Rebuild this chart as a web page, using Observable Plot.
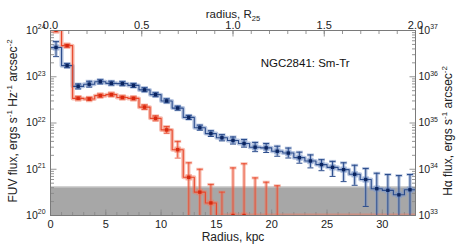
<!DOCTYPE html>
<html><head><meta charset="utf-8">
<script src="https://cdn.jsdelivr.net/npm/d3@7"></script>
<script src="https://cdn.jsdelivr.net/npm/@observablehq/plot@0.6"></script>
<style>body{margin:0;background:#fff}#chart{width:458px;height:251px}</style>
</head><body><div id="chart"></div>
<script>
// ---------- data ----------
const radiusKpc = [0.5,1.5,2.5,3.5,4.5,5.5,6.5,7.5,8.5,9.5,10.5,11.5,12.5,13.5,14.5,15.5,16.5,17.5,18.5,19.5,20.5,21.5,22.5,23.5,24.5,25.5,26.5,27.5,28.5,29.5,30.5,31.5,32.5];
const fuvFlux = [4.3e23,1.74e23,6.2e22,6.9e22,7.8e22,7.2e22,7.1e22,6.5e22,5.2e22,4.1e22,3.0e22,2.1e22,1.32e22,7.9e21,5.9e21,4.8e21,4.2e21,3.6e21,3.0e21,2.9e21,2.45e21,2.24e21,1.78e21,1.51e21,1.26e21,1.10e21,9.8e20,7.8e20,6.0e20,3.8e20,3.5e20,2.8e20,3.6e20];
const fuvHi = [5.75e23,1.92e23,6.98e22,8.0e22,8.6e22,8.0e22,7.8e22,7.1e22,5.8e22,4.5e22,3.33e22,2.31e22,1.46e22,9.0e21,6.8e21,5.6e21,5.0e21,4.4e21,3.8e21,3.6e21,3.15e21,2.87e21,2.34e21,2.04e21,1.61e21,1.48e21,1.38e21,1.22e21,1.04e21,8.2e20,7.7e20,7.3e20,7.7e20];
const fuvLo = [2.72e23,1.57e23,5.45e22,5.96e22,7.0e22,6.6e22,6.4e22,5.85e22,4.75e22,3.7e22,2.73e22,1.89e22,1.19e22,7.0e21,5.1e21,4.1e21,3.5e21,3.0e21,2.4e21,2.3e21,1.91e21,1.75e21,1.35e21,1.07e21,9.3e20,7.0e20,5.4e20,4.5e20,1.57e20,0,0,0,0];
const haFlux = [1.0e37,4.7e36,3.4e35,3.3e35,3.9e35,4.1e35,3.55e35,3.4e35,2.2e35,1.26e35,7.1e34,2.65e34,6.7e33,3.2e33,1.87e33,0,1.0e33,1.0e33,0,0,0,0,0,0,0,0,0,0,0,0,0,0,0];
const haHi = [null,5.0e36,3.7e35,3.55e35,4.2e35,4.4e35,3.8e35,3.65e35,2.45e35,1.43e35,8.4e34,4.0e34,1.38e34,1.0e34,4.7e33,3.2e33,1.07e34,1.32e34,6.5e33,5.25e33,4.4e33,null,null,null,null,null,null,null,null,null,null,null,null];
const haLo = [null,4.35e36,3.2e35,3.08e35,3.6e35,3.8e35,3.3e35,3.15e35,1.95e35,1.11e35,5.9e34,1.74e34,0,0,0,0,0,0,0,0,0,null,null,null,null,null,null,null,null,null,null,null,null];
const fuvNoise = 4.1e20;
const fuvAxisRange = [1e20, 1e24];
const haAxisRange = [1e33, 1e37];
const r25Kpc = 16.5;
const topTicksR25 = [0.0, 0.5, 1.0, 1.5, 2.0];
const bottomTicksKpc = [0, 5, 10, 15, 20, 25, 30];
const galaxyLabel = "NGC2841: Sm-Tr";
const labelPos = {r: 19, fuv: 2.0e23};

// ---------- derived ----------
const xDomain = [0, topTicksR25[topTicksR25.length - 1] * r25Kpc];
const haToFuv = fuvAxisRange[0] / haAxisRange[0];
const yMin = fuvAxisRange[0];
const rows = radiusKpc.map((r, i) => ({
  r,
  fuv: fuvFlux[i], fuvLo: Math.max(fuvLo[i], yMin), fuvHi: fuvHi[i],
  ha: haFlux[i] * haToFuv,
  haLine: Math.max(haFlux[i] * haToFuv, yMin),
  haLo: haLo[i] == null ? null : Math.max(haLo[i] * haToFuv, yMin),
  haHi: haHi[i] == null ? null : haHi[i] * haToFuv
}));
const half = (radiusKpc[1] - radiusKpc[0]) / 2;
const stepRows = [{...rows[0], r: rows[0].r - half}, ...rows, {...rows[rows.length-1], r: rows[rows.length-1].r + half}];
const haBars = rows.filter(d => d.haHi != null && d.haLo != null);
const haDots = rows.filter(d => d.ha >= yMin);

const decades = d3.range(Math.log10(fuvAxisRange[0]), Math.log10(fuvAxisRange[1]) + 1);
const yMajor = decades.map(e => Math.pow(10, e));
const yMinor = decades.slice(0, -1).flatMap(e => d3.range(2, 10).map(m => m * Math.pow(10, e)));
const xMinor = d3.range(xDomain[0], xDomain[1] + 1e-9, 1);
const topMinor = d3.range(0, topTicksR25[topTicksR25.length-1] + 1e-9, 0.1).map(t => t * r25Kpc);
const haExpOffset = Math.log10(haAxisRange[0]) - Math.log10(fuvAxisRange[0]);

// ---------- symbols ----------
const lineSym = (dx, dy, centered) => ({draw(ctx, size) {
  const l = Math.sqrt(size / Math.PI);
  if (centered) { ctx.moveTo(-l*dx, -l*dy); ctx.lineTo(l*dx, l*dy); }
  else { ctx.moveTo(0, 0); ctx.lineTo(l*dx, l*dy); }
}});
const symUp = lineSym(0, -1), symDown = lineSym(0, 1), symRight = lineSym(1, 0), symLeft = lineSym(-1, 0);
const symCap = lineSym(1, 0, true);

const tickCol = "#8a8a8a";
const blueCore = "#2b4c8c", blueHalo = "#7d98c8", blueDot = "#0a2460";
const redCore = "#e8462a", redHalo = "#f07a60", redDot = "#d9280e";
const font = "Liberation Sans, Arial, Helvetica, sans-serif";

const plot = Plot.plot({
  width: 458, height: 251,
  marginTop: 30, marginRight: 43, marginBottom: 36, marginLeft: 50,
  style: {fontFamily: font, background: "white", overflow: "visible"},
  x: {domain: xDomain, axis: null},
  y: {type: "log", domain: fuvAxisRange, axis: null},
  marks: [
    Plot.rect([fuvNoise], {x1: () => xDomain[0], x2: () => xDomain[1], y1: () => yMin, y2: d => d, fill: "#a7a7a7"}),
    Plot.ruleY([fuvNoise], {stroke: "#c4c4c4", strokeWidth: 1.2}),
    Plot.dot(xMinor, {x: d => d, frameAnchor: "bottom", symbol: symUp, r: 3.5, stroke: tickCol, fill: "none", strokeWidth: 0.9}),
    Plot.dot(bottomTicksKpc, {x: d => d, frameAnchor: "bottom", symbol: symUp, r: 6, stroke: tickCol, fill: "none", strokeWidth: 0.9}),
    Plot.dot(topMinor, {x: d => d, frameAnchor: "top", symbol: symDown, r: 3.5, stroke: tickCol, fill: "none", strokeWidth: 0.9}),
    Plot.dot(topTicksR25.map(t => t * r25Kpc), {x: d => d, frameAnchor: "top", symbol: symDown, r: 6, stroke: tickCol, fill: "none", strokeWidth: 0.9}),
    Plot.dot(yMinor, {y: d => d, frameAnchor: "left", symbol: symRight, r: 3.5, stroke: tickCol, fill: "none", strokeWidth: 0.9}),
    Plot.dot(yMajor, {y: d => d, frameAnchor: "left", symbol: symRight, r: 6, stroke: tickCol, fill: "none", strokeWidth: 0.9}),
    Plot.dot(yMinor, {y: d => d, frameAnchor: "right", symbol: symLeft, r: 3.5, stroke: tickCol, fill: "none", strokeWidth: 0.9}),
    Plot.dot(yMajor, {y: d => d, frameAnchor: "right", symbol: symLeft, r: 6, stroke: tickCol, fill: "none", strokeWidth: 0.9}),
    // halos
    Plot.line(stepRows, {x: "r", y: "fuv", curve: "step", stroke: blueHalo, strokeWidth: 4, strokeOpacity: 0.55, clip: true}),
    Plot.ruleX(rows, {x: "r", y1: "fuvLo", y2: "fuvHi", stroke: blueHalo, strokeWidth: 3.5, strokeOpacity: 0.5, clip: true}),
    Plot.dot(rows, {x: "r", y: "fuvHi", symbol: symCap, r: 3.5, stroke: blueHalo, strokeWidth: 3, strokeOpacity: 0.5, fill: "none", clip: true}),
    Plot.dot(rows, {x: "r", y: "fuv", symbol: "square", r: 3.6, fill: blueHalo, fillOpacity: 0.6, clip: true}),
    Plot.line(stepRows, {x: "r", y: "haLine", curve: "step", stroke: redHalo, strokeWidth: 4, strokeOpacity: 0.5, clip: true}),
    Plot.ruleX(haBars, {x: "r", y1: "haLo", y2: "haHi", stroke: redHalo, strokeWidth: 3.5, strokeOpacity: 0.45, clip: true}),
    Plot.dot(haBars, {x: "r", y: "haHi", symbol: symCap, r: 3.5, stroke: redHalo, strokeWidth: 3, strokeOpacity: 0.45, fill: "none", clip: true}),
    Plot.dot(haDots, {x: "r", y: "ha", symbol: "square", r: 3.6, fill: redHalo, fillOpacity: 0.55, clip: true}),
    // cores
    Plot.line(stepRows, {x: "r", y: "fuv", curve: "step", stroke: blueCore, strokeWidth: 1.1, clip: true}),
    Plot.ruleX(rows, {x: "r", y1: "fuvLo", y2: "fuvHi", stroke: blueCore, strokeWidth: 1, clip: true}),
    Plot.dot(rows, {x: "r", y: "fuvHi", symbol: symCap, r: 3, stroke: blueCore, strokeWidth: 1, fill: "none", clip: true}),
    Plot.dot(rows, {x: "r", y: "fuvLo", symbol: symCap, r: 3, stroke: blueCore, strokeWidth: 1, fill: "none", clip: true}),
    Plot.dot(rows, {x: "r", y: "fuv", symbol: "square", r: 1.9, fill: blueDot, clip: true}),
    Plot.line(stepRows, {x: "r", y: "haLine", curve: "step", stroke: redCore, strokeWidth: 1.1, clip: true}),
    Plot.ruleX(haBars, {x: "r", y1: "haLo", y2: "haHi", stroke: redCore, strokeWidth: 1, strokeOpacity: 0.8, clip: true}),
    Plot.dot(haBars, {x: "r", y: "haHi", symbol: symCap, r: 3, stroke: redCore, strokeWidth: 1, strokeOpacity: 0.8, fill: "none", clip: true}),
    Plot.dot(haBars, {x: "r", y: "haLo", symbol: symCap, r: 3, stroke: redCore, strokeWidth: 1, strokeOpacity: 0.8, fill: "none", clip: true}),
    Plot.dot(haDots, {x: "r", y: "ha", symbol: "square", r: 1.9, fill: redDot, clip: true}),
    Plot.frame({stroke: "#7a7a7a", strokeWidth: 1}),
    // tick labels
    Plot.text(bottomTicksKpc, {x: d => d, frameAnchor: "bottom", dy: 12, text: d => String(d), fontSize: 11, fill: "#222"}),
    Plot.text(topTicksR25, {x: d => d * r25Kpc, frameAnchor: "top", dy: -9, text: d => d.toFixed(1), fontSize: 11, fill: "#222"}),
    Plot.text(yMajor, {y: d => d, frameAnchor: "left", dx: -5, textAnchor: "end", text: d => "10^{" + Math.round(Math.log10(d)) + "}", fontSize: 10.5, fill: "#222"}),
    Plot.text(yMajor, {y: d => d, frameAnchor: "right", dx: 3, textAnchor: "start", text: d => "10^{" + Math.round(Math.log10(d) + haExpOffset) + "}", fontSize: 10.5, fill: "#222"}),
    // axis titles
    Plot.text(["Radius, kpc"], {frameAnchor: "bottom", dy: 25, fontSize: 12, fill: "#222"}),
    Plot.text(["radius, R_{25}"], {frameAnchor: "top", dy: -21, fontSize: 11.5, fill: "#222"}),
    Plot.text(["FUV flux, ergs s^{-1} Hz^{-1} arcsec^{-2}"], {frameAnchor: "left", textAnchor: "middle", dx: -37, dy: -2, rotate: -90, fontSize: 12, fill: "#222"}),
    Plot.text(["H\u03b1 flux, ergs s^{-1} arcsec^{-2}"], {frameAnchor: "right", textAnchor: "middle", dx: 33, dy: 8, rotate: -90, fontSize: 12, fill: "#222"}),
    Plot.text([galaxyLabel], {x: () => labelPos.r, y: () => labelPos.fuv, textAnchor: "start", fontSize: 11.5, fill: "#111"})
  ]
});
document.getElementById("chart").appendChild(plot);

// superscript / subscript rendering: any text element containing ^{..} or _{..}
const NS = "http://www.w3.org/2000/svg";
plot.querySelectorAll("text").forEach(el => {
  const s = el.textContent;
  if (!/[\^_]\{/.test(s)) return;
  const re = /([\^_])\{([^}]*)\}/g;
  const parts = []; let last = 0, m;
  while ((m = re.exec(s))) {
    if (m.index > last) parts.push({t: s.slice(last, m.index), k: null});
    parts.push({t: m[2], k: m[1]});
    last = m.index + m[0].length;
  }
  if (last < s.length) parts.push({t: s.slice(last), k: null});
  const fs = parseFloat(getComputedStyle(el).fontSize) || 11;
  while (el.firstChild) el.removeChild(el.firstChild);
  let cur = 0;
  parts.forEach(p => {
    const target = p.k === "^" ? -0.42 * fs : p.k === "_" ? 0.25 * fs : 0;
    const ts = document.createElementNS(NS, "tspan");
    ts.setAttribute("dy", (target - cur).toFixed(2));
    if (p.k) ts.setAttribute("font-size", (0.66 * fs).toFixed(2));
    ts.textContent = p.t;
    el.appendChild(ts);
    cur = target;
  });
});
</script>
</body></html>
